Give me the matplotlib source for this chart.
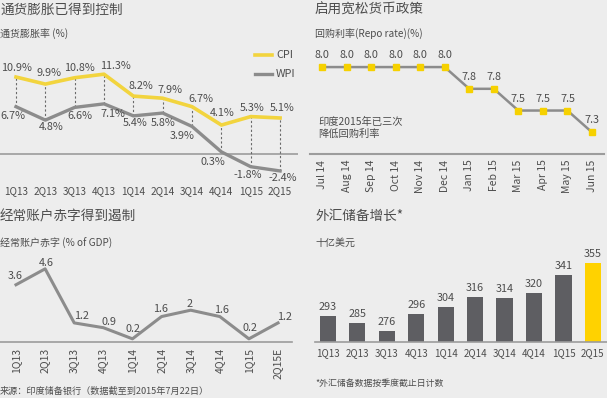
import matplotlib
matplotlib.use('Agg')
import matplotlib.pyplot as plt
from matplotlib.lines import Line2D
import numpy as np

plt.rcParams['font.family'] = ['Noto Sans CJK SC', 'DejaVu Sans']

# ---------------- data ----------------
quarters = ['1Q13', '2Q13', '3Q13', '4Q13', '1Q14', '2Q14', '3Q14', '4Q14', '1Q15', '2Q15']
cpi = [10.9, 9.9, 10.8, 11.3, 8.2, 7.9, 6.7, 4.1, 5.3, 5.1]
wpi = [6.7, 4.8, 6.6, 7.1, 5.4, 5.8, 3.9, 0.3, -1.8, -2.4]

repo_months = ['Jul 14', 'Aug 14', 'Sep 14', 'Oct 14', 'Nov 14', 'Dec 14',
               'Jan 15', 'Feb 15', 'Mar 15', 'Apr 15', 'May 15', 'Jun 15']
repo_rate = [8.0, 8.0, 8.0, 8.0, 8.0, 8.0, 7.75, 7.75, 7.5, 7.5, 7.5, 7.25]
repo_labels = ['8.0', '8.0', '8.0', '8.0', '8.0', '8.0', '7.8', '7.8', '7.5', '7.5', '7.5', '7.3']

cad_quarters = ['1Q13', '2Q13', '3Q13', '4Q13', '1Q14', '2Q14', '3Q14', '4Q14', '1Q15', '2Q15E']
cad = [3.6, 4.6, 1.2, 0.9, 0.2, 1.6, 2.0, 1.6, 0.2, 1.2]
cad_labels = ['3.6', '4.6', '1.2', '0.9', '0.2', '1.6', '2', '1.6', '0.2', '1.2']

fx_quarters = ['1Q13', '2Q13', '3Q13', '4Q13', '1Q14', '2Q14', '3Q14', '4Q14', '1Q15', '2Q15']
fx_reserves = [293, 285, 276, 296, 304, 316, 314, 320, 341, 355]

# ---------------- style ----------------
W, H = 607, 398
BG = '#ededed'
TXT = '#4d4d4d'
YEL = '#f2d43e'
GRY = '#8c8c8c'
AXC = '#9c9c9c'
PT = 0.72  # points per pixel
LBL = 7.8

# label offsets in pixels (dx, dy up)
cpi_off = [(0, 9), (4, 11), (5, 10), (11, 8), (8, 10), (7, 8), (9, 8), (1, 12), (1, 9), (2, 10)]
wpi_off = [(-3, -9), (6, -7), (5, -9), (9, -10), (2, -7), (0, -10), (-10, -10), (-9, -10), (-3, -8), (3, -7)]
cad_off = [(-1, 9), (1, 6), (7, 7), (6, 6), (0, 10), (-1, 8), (-1, 6), (2, 7), (1, 11), (6, 6)]

fig = plt.figure(figsize=(W / 100, H / 100), dpi=100, facecolor=BG)


def px_axes(l, t, r, b):
    ax = fig.add_axes([l / W, 1 - b / H, (r - l) / W, (b - t) / H])
    ax.set_facecolor('none')
    for s in ax.spines.values():
        s.set_visible(False)
    ax.set_yticks([])
    return ax


def ftext(x, y, s, **kw):
    fig.text(x / W, 1 - y / H, s, **kw)


# ---------------- panel 1: inflation ----------------
ftext(0, 10, '通货膨胀已得到控制', fontsize=9.8, color=TXT, va='center', ha='left')
ftext(0, 34, '通货膨胀率 (%)', fontsize=7.2, color=TXT, va='center', ha='left')

ax1 = px_axes(0, 60, 298, 180)
x = np.arange(len(quarters))
ax1.set_xlim(-0.545, 9.61)
ax1.set_ylim(-3.68, 13.31)
ax1.axhline(0, color=AXC, lw=1.2)
ax1.vlines(x, wpi, cpi, colors='#6a6a6a', linestyles=(0, (2, 2)), lw=0.8)
ax1.plot(x, cpi, color=YEL, lw=2.6)
ax1.plot(x, wpi, color=GRY, lw=2.4)
for i in range(len(x)):
    ax1.annotate(f'{cpi[i]}%', (x[i], cpi[i]), xytext=(cpi_off[i][0] * PT, cpi_off[i][1] * PT),
                 textcoords='offset points', ha='center', va='center', fontsize=LBL, color=TXT)
    ax1.annotate(f'{wpi[i]}%', (x[i], wpi[i]), xytext=(wpi_off[i][0] * PT, wpi_off[i][1] * PT),
                 textcoords='offset points', ha='center', va='center', fontsize=LBL, color=TXT)
ax1.set_xticks(x, quarters)
ax1.tick_params(axis='x', length=0, pad=4.5, labelsize=7.2, colors=TXT)

fig.add_artist(Line2D([255 / W, 272 / W], [1 - 55 / H] * 2, color=YEL, lw=2.6, transform=fig.transFigure))
fig.add_artist(Line2D([255 / W, 272 / W], [1 - 74 / H] * 2, color=GRY, lw=2.4, transform=fig.transFigure))
ftext(276, 55, 'CPI', fontsize=7.8, color=TXT, va='center')
ftext(276, 74, 'WPI', fontsize=7.8, color=TXT, va='center')

# ---------------- panel 2: repo rate ----------------
ftext(315, 10, '启用宽松货币政策', fontsize=9.8, color=TXT, va='center', ha='left')
ftext(315, 34, '回购利率(Repo rate)(%)', fontsize=7.2, color=TXT, va='center', ha='left')

ax2 = px_axes(310, 45, 604, 154)
xr = np.arange(len(repo_months))
ax2.set_xlim(-0.489, 11.49)
ax2.set_ylim(7.0, 8.254)
ax2.spines['bottom'].set_visible(True)
ax2.spines['bottom'].set_color(AXC)
ax2.spines['bottom'].set_linewidth(1.5)
ax2.plot(xr, repo_rate, color=GRY, lw=1.8, marker='s', markersize=4.6,
         markerfacecolor='#f6d100', markeredgecolor='#f6d100', zorder=3)
for i in range(len(xr)):
    ax2.annotate(repo_labels[i], (xr[i], repo_rate[i]), xytext=(0, 12 * PT),
                 textcoords='offset points', ha='center', va='center', fontsize=LBL, color=TXT)
ax2.set_xticks(xr, repo_months, rotation=90)
ax2.tick_params(axis='x', length=0, pad=4, labelsize=7.5, colors=TXT)
ftext(318, 128, '印度2015年已三次\n降低回购利率', fontsize=7.4, color=TXT, va='center', ha='left',
      linespacing=1.3)

# ---------------- panel 3: current account deficit ----------------
ftext(0, 217, '经常账户赤字得到遏制', fontsize=9.8, color=TXT, va='center', ha='left')
ftext(0, 243, '经常账户赤字 (% of GDP)', fontsize=7.2, color=TXT, va='center', ha='left')

ax3 = px_axes(0, 255, 292, 342)
xc = np.arange(len(cad_quarters))
ax3.set_xlim(-0.55, 9.48)
ax3.set_ylim(0, 5.47)
ax3.spines['bottom'].set_visible(True)
ax3.spines['bottom'].set_color(AXC)
ax3.spines['bottom'].set_linewidth(1.2)
ax3.plot(xc, cad, color=GRY, lw=2.2)
for i in range(len(xc)):
    ax3.annotate(cad_labels[i], (xc[i], cad[i]), xytext=(cad_off[i][0] * PT, cad_off[i][1] * PT),
                 textcoords='offset points', ha='center', va='center', fontsize=LBL, color=TXT)
ax3.set_xticks(xc, cad_quarters, rotation=90)
ax3.tick_params(axis='x', length=0, pad=4, labelsize=7.5, colors=TXT)

ftext(0, 391, '来源：印度储备银行（数据截至到2015年7月22日）', fontsize=6.6, color=TXT, va='center', ha='left')

# ---------------- panel 4: FX reserves ----------------
ftext(315, 216, '外汇储备增长*', fontsize=9.8, color=TXT, va='center', ha='left')
ftext(315, 243, '十亿美元', fontsize=7.2, color=TXT, va='center', ha='left')

ax4 = px_axes(315, 245, 607, 342)
xf = np.arange(len(fx_quarters))
bar_colors = ['#5e5e62'] * (len(xf) - 1) + ['#ffd200']
ax4.bar(xf, fx_reserves, width=0.55, color=bar_colors)
ax4.set_xlim(-0.44, 9.48)
ax4.set_ylim(263, 376)
ax4.spines['bottom'].set_visible(True)
ax4.spines['bottom'].set_color(AXC)
ax4.spines['bottom'].set_linewidth(1.2)
for i in range(len(xf)):
    ax4.annotate(str(fx_reserves[i]), (xf[i], fx_reserves[i]), xytext=(0, 9 * PT),
                 textcoords='offset points', ha='center', va='center', fontsize=LBL, color=TXT)
ax4.set_xticks(xf, fx_quarters)
ax4.tick_params(axis='x', length=0, pad=4.5, labelsize=7.0, colors=TXT)

ftext(315, 383, '*外汇储备数据按季度截止日计数', fontsize=6.4, color=TXT, va='center', ha='left')

fig.savefig('out.png', dpi=100, facecolor=BG)
